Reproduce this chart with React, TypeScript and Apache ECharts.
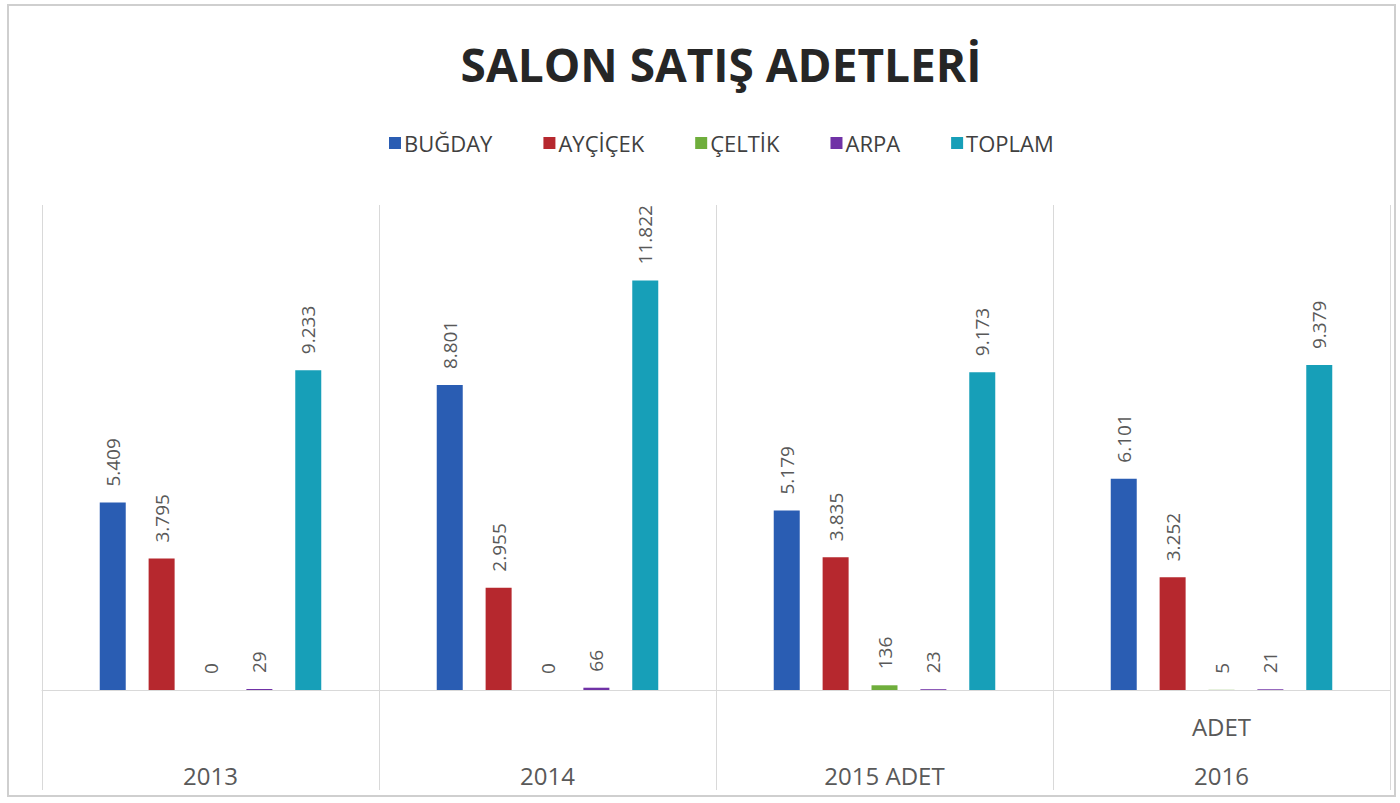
import React, { useEffect, useRef } from "react";
import * as echarts from "echarts";

const categories = ["2013", "2014", "2015 ADET", "2016"];
const categoryLabels = ["\n2013", "\n2014", "\n2015 ADET", "ADET\n2016"];
const seriesNames = ["BUĞDAY", "AYÇİÇEK", "ÇELTİK", "ARPA", "TOPLAM"];
const bugday = [5409, 8801, 5179, 6101];
const aycicek = [3795, 2955, 3835, 3252];
const celtik = [0, 0, 136, 5];
const arpa = [29, 66, 23, 21];
const toplam = [9233, 11822, 9173, 9379];
const colors = ["#2a5db3", "#b6282e", "#6fae3c", "#7032a6", "#179fb8"];

const FONT = "'Open Sans', 'Noto Sans', sans-serif";

function fmt(v: number): string {
  return String(v).replace(/\B(?=(\d{3})+(?!\d))/g, ".");
}

export default function App() {
  const ref = useRef<HTMLDivElement>(null);
  useEffect(() => {
    if (!ref.current) return;
    const chart = echarts.init(ref.current, undefined, { renderer: "svg" });
    const values = [bugday, aycicek, celtik, arpa, toplam];
    chart.setOption({
      animation: false,
      backgroundColor: "#ffffff",
      title: {
        text: "SALON SATIŞ ADETLERİ",
        left: 716,
        top: 36,
        textAlign: "center",
        textStyle: {
          fontFamily: FONT,
          fontSize: 46,
          fontWeight: "bold",
          color: "#262626",
        },
      },
      legend: {
        data: seriesNames,
        top: 127,
        left: 384,
        icon: "rect",
        itemWidth: 12,
        itemHeight: 12,
        itemGap: 51,
        textStyle: { fontFamily: FONT, fontSize: 22, color: "#404040", padding: [0, 0, 0, -2] },
      },
      graphic: [
        {
          type: "rect",
          shape: { x: 8, y: 5, width: 1387, height: 791 },
          style: { fill: "none", stroke: "#cfcfcf", lineWidth: 2 },
          silent: true,
        },
      ],
      grid: { left: 42, right: 10, top: 205, bottom: 113, containLabel: false },
      xAxis: {
        type: "category",
        data: categories,
        axisLine: { show: true, lineStyle: { color: "#d9d9d9", width: 1 } },
        axisTick: { show: true, length: 100, lineStyle: { color: "#d9d9d9" } },
        splitLine: { show: true, lineStyle: { color: "#d9d9d9" } },
        axisLabel: {
          margin: 12,
          fontFamily: FONT,
          fontSize: 24,
          lineHeight: 49,
          color: "#595959",
          formatter: (_v: string, i: number) => categoryLabels[i],
        },
      },
      yAxis: {
        type: "value",
        min: 0,
        max: 14000,
        show: false,
        splitLine: { show: false },
      },
      series: seriesNames.map((name, i) => ({
        name,
        type: "bar",
        data: values[i],
        barWidth: 26,
        barGap: "88%",
        barCategoryGap: "34%",
        itemStyle: { color: colors[i] },
        label: {
          show: true,
          position: "top",
          rotate: 90,
          align: "left",
          verticalAlign: "middle",
          distance: 16,
          fontFamily: FONT,
          fontSize: 19,
          color: "#595959",
          formatter: (p: any) => fmt(p.value),
        },
      })),
    });
    return () => chart.dispose();
  }, []);
  return (
    <div
      ref={ref}
      style={{ position: "fixed", left: 0, top: 0, width: 1400, height: 803 }}
    />
  );
}
